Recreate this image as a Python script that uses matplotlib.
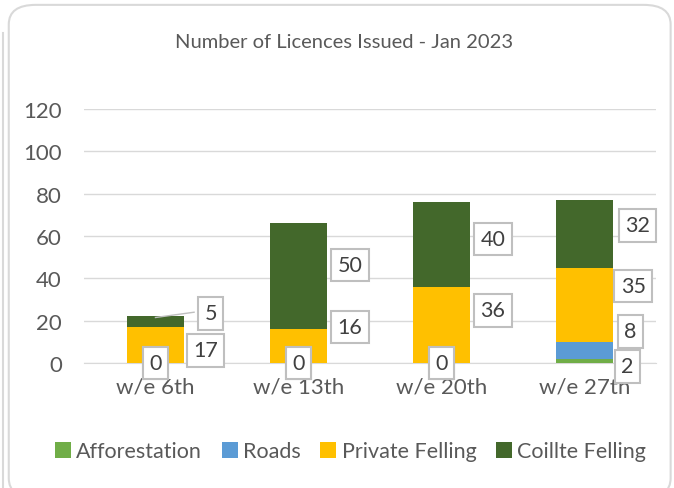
import matplotlib.pyplot as plt
from matplotlib.patches import FancyBboxPatch

# data
weeks = ['w/e 6th', 'w/e 13th', 'w/e 20th', 'w/e 27th']
afforestation = [0, 0, 0, 2]
roads = [0, 0, 0, 8]
private_felling = [17, 16, 36, 35]
coillte_felling = [5, 50, 40, 32]

series = [
    ('Afforestation', afforestation, '#70AD47'),
    ('Roads', roads, '#5B9BD5'),
    ('Private Felling', private_felling, '#FFC000'),
    ('Coillte Felling', coillte_felling, '#43682B'),
]

# label placement (x offset from bar centre, y in data units) per series/week
label_pos = {
    'Afforestation': [(0, 0), (0, 0), (0, 0), (0.30, -1.5)],
    'Roads': [(0, 0), (0, 0), (0, 0), (0.32, 15.1)],
    'Private Felling': [(0.35, 6.1), (0.36, 17), (0.36, 25), (0.34, 36.4)],
    'Coillte Felling': [(0.385, 23.6), (0.36, 46.3), (0.36, 58.6), (0.37, 65)],
}

plt.rcParams['font.family'] = ['Lato', 'DejaVu Sans']
text_col = '#595959'

fig = plt.figure(figsize=(6.74, 4.89), dpi=100)
ax = fig.add_axes([0.1246, 0.2556, 0.8487, 0.5194])

# chart border
fig.patches.append(FancyBboxPatch((0.013, -0.02), 0.982, 1.008,
                                  boxstyle='round,pad=0,rounding_size=0.04',
                                  transform=fig.transFigure, fill=False,
                                  edgecolor='#D9D9D9', linewidth=1.5))
fig.add_artist(plt.Line2D([0.004, 0.004], [0.0, 0.93], transform=fig.transFigure,
                          color='#D9D9D9', linewidth=1.5))

x = list(range(len(weeks)))
bottom = [0] * len(weeks)
for name, vals, col in series:
    ax.bar(x, vals, width=0.4, bottom=bottom, color=col, label=name, zorder=2)
    for i, v in enumerate(vals):
        dx, ly = label_pos[name][i]
        ax.text(i + dx, ly, str(v), ha='center', va='center', fontsize=15.5,
                color='#404040', zorder=4,
                bbox=dict(boxstyle='square,pad=0.3', fc='white', ec='#BFBFBF', lw=1.5))
    bottom = [b + v for b, v in zip(bottom, vals)]

# leader line for small Coillte label on first bar
ax.plot([0.0, 0.27], [21.5, 24], color='#BFBFBF', lw=1, zorder=3)

ax.set_xlim(-0.5, 3.5)
ax.set_ylim(0, 120)
ax.set_yticks(range(0, 121, 20))
ax.set_xticks(x)
ax.set_xticklabels(weeks)
ax.tick_params(length=0, labelsize=16, labelcolor=text_col)
ax.tick_params(axis='y', pad=16)
ax.tick_params(axis='x', pad=10)
ax.yaxis.grid(True, color='#D9D9D9', lw=1, zorder=0)
for s in ['top', 'right', 'left']:
    ax.spines[s].set_visible(False)
ax.spines['bottom'].set_color('#D9D9D9')
ax.spines['bottom'].set_zorder(1)

fig.text(0.51, 0.913, 'Number of Licences Issued - Jan 2023', ha='center', va='center',
         fontsize=14.5, color=text_col)

fig.legend(loc='center', bbox_to_anchor=(0.52, 0.075), ncol=4, frameon=False,
           fontsize=15.5, labelcolor=text_col, handlelength=0.75, handleheight=0.75,
           handletextpad=0.25, columnspacing=0.9)

fig.savefig('out.png', dpi=100)
